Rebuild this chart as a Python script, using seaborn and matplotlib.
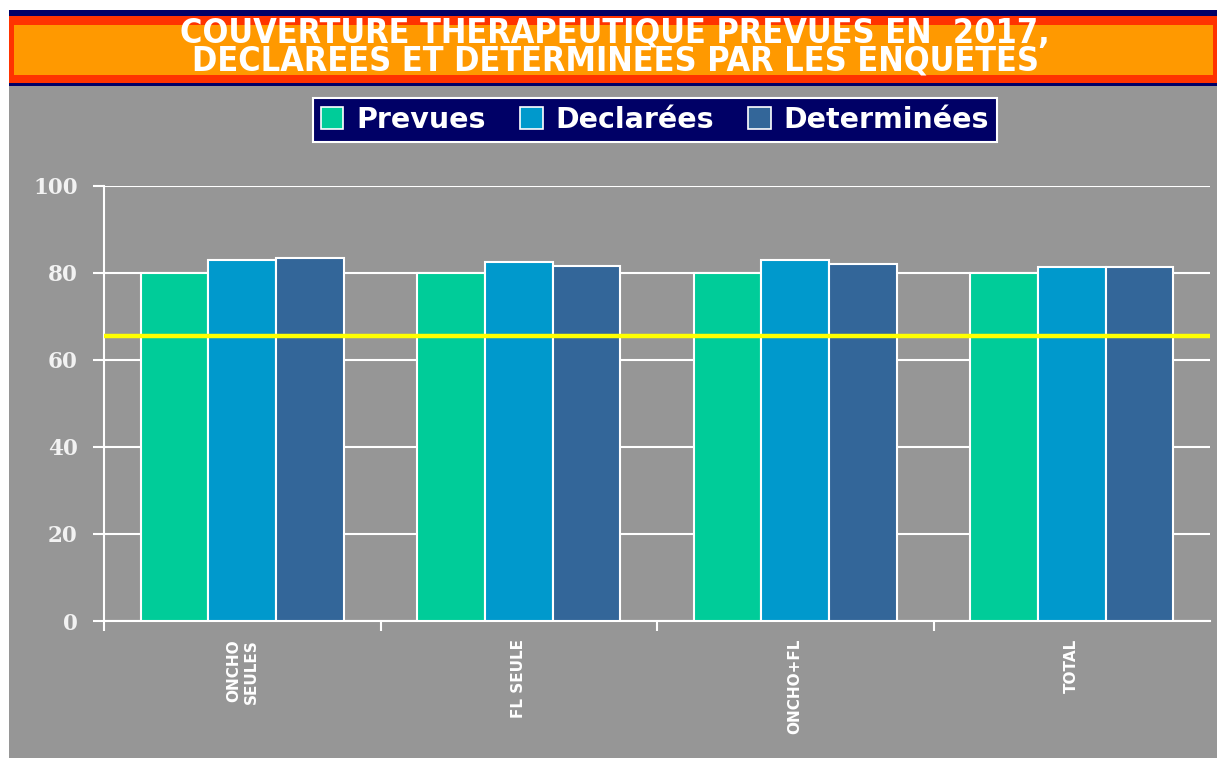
import matplotlib
matplotlib.use("Agg")
import matplotlib.pyplot as plt
from matplotlib.patches import Rectangle, Patch
import seaborn as sns
import pandas as pd

categories = ["ONCHO\nSEULES", "FL SEULE", "ONCHO+FL", "TOTAL"]
series_names = ["Prevues", "Declarées", "Determinées"]
prevues = [80, 80, 80, 80]
declarees = [83.0, 82.5, 83.0, 81.4]
determinees = [83.4, 81.6, 82.0, 81.4]
target_line = 65.5
y_ticks = [0, 20, 40, 60, 80, 100]
title_text = "COUVERTURE THERAPEUTIQUE PREVUES EN  2017,\nDECLAREES ET DETERMINEES PAR LES ENQUETES"

colors = ["#00CC99", "#0099CC", "#336699"]
GRAY = "#969696"
NAVY = "#000066"
W, H = 1217, 764

rows = []
for name, vals in zip(series_names, [prevues, declarees, determinees]):
    for c, v in zip(categories, vals):
        rows.append({"cat": c, "serie": name, "val": v})
df = pd.DataFrame(rows)

sns.set_theme(style="white")
fig = plt.figure(figsize=(W / 100, H / 100), dpi=100, facecolor="white")

def frect(x0, y0, x1, y1, color, z=-5):
    # pixel coords from top-left
    fig.patches.append(Rectangle((x0 / W, 1 - y1 / H), (x1 - x0) / W, (y1 - y0) / H,
                                 transform=fig.transFigure, facecolor=color,
                                 edgecolor="none", zorder=z))

frect(9, 86, W, 758, GRAY)
frect(9, 10, W, 86, NAVY)
frect(9, 16, W, 83, "#FF3300")
frect(14, 25, 1213, 75, "#FF9900")

fig.text(615 / W, 1 - 47 / H, title_text, ha="center", va="center", color="white",
         fontsize=24.5, fontweight="bold", family="DejaVu Sans", fontstretch="condensed",
         linespacing=0.8, zorder=5)

ax = fig.add_axes([104 / W, 1 - 621 / H, 1106 / W, 435 / H])
ax.set_facecolor(GRAY)
sns.barplot(data=df, x="cat", y="val", hue="serie", hue_order=series_names,
            order=categories, palette=colors, width=0.735, edgecolor="white",
            linewidth=1.5, saturation=1, ax=ax, legend=False, zorder=3)
ax.axhline(target_line, color="#FFFF00", linewidth=3.2, zorder=5)

ax.set_xlim(-0.5, len(categories) - 0.5)
ax.set_ylim(0, 100)
ax.set_yticks(y_ticks)
ax.set_yticklabels([str(t) for t in y_ticks], family="DejaVu Serif",
                   fontweight="bold", fontsize=15.5, color="#F2F2F2")
ax.yaxis.grid(True, color="white", linewidth=1.5, zorder=0)
ax.set_axisbelow(True)
for s in ["top", "right"]:
    ax.spines[s].set_visible(False)
for s in ["left", "bottom"]:
    ax.spines[s].set_color("white")
    ax.spines[s].set_linewidth(1.5)
ax.tick_params(axis="y", length=8, color="white", width=1.5, pad=11, left=True)
ax.set_xticks(range(len(categories)))
ax.set_xticklabels(categories, rotation=90, fontsize=11, fontweight="bold",
                   color="white", va="top", ha="center", multialignment="right")
ax.tick_params(axis="x", length=0, pad=13, bottom=True)
ax.set_xticks([-0.5, 0.5, 1.5, 2.5], minor=True)
ax.tick_params(axis="x", which="minor", length=7, color="white", width=1.5, bottom=True)
ax.set_xlabel("")
ax.set_ylabel("")

handles = [Patch(facecolor=c, edgecolor="white", linewidth=1.2) for c in colors]
leg = fig.legend(handles, series_names, loc="center", bbox_to_anchor=(655 / W, 1 - 120 / H),
                 ncol=3, frameon=True, facecolor=NAVY, edgecolor="white", framealpha=1,
                 fancybox=False, prop={"family": "DejaVu Sans", "weight": "bold", "size": 20.5},
                 handlelength=0.8, handleheight=0.8, handletextpad=0.45, columnspacing=1.2,
                 borderpad=0.28)
for t in leg.get_texts():
    t.set_color("white")
leg.get_frame().set_linewidth(1.5)

fig.savefig("out.png", dpi=100, facecolor="white")
